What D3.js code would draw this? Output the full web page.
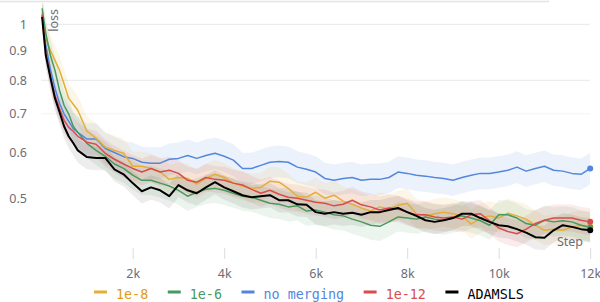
<!DOCTYPE html>
<html>
<head>
<meta charset="utf-8">
<script src="https://cdn.jsdelivr.net/npm/d3@7"></script>
<style>
  body { margin: 0; background: #fff; }
  svg { display: block; }
</style>
</head>
<body>
<div id="chart"></div>
<script>
const steps = [
  20, 100, 200, 300, 400, 500, 600, 700, 800,
  1000, 1200, 1400, 1600, 1800,
  2000, 2200, 2400, 2600, 2800,
  3000, 3200, 3400, 3600, 3800,
  4000, 4200, 4400, 4600, 4800,
  5000, 5200, 5400, 5600, 5800,
  6000, 6200, 6400, 6600, 6800,
  7000, 7200, 7400, 7600, 7800,
  8000, 8200, 8400, 8600, 8800,
  9000, 9200, 9400, 9600, 9800,
  10000, 10200, 10400, 10600, 10800,
  11000, 11200, 11400, 11600, 11800,
  12000
];

const lossE8 = [
  1.05, 0.946, 0.902, 0.866, 0.833, 0.788, 0.745, 0.727, 0.71,
  0.653, 0.635, 0.613, 0.605, 0.598,
  0.568, 0.568, 0.563, 0.555, 0.539,
  0.543, 0.541, 0.529, 0.541, 0.55,
  0.543, 0.531, 0.525, 0.52, 0.522,
  0.535, 0.533, 0.52, 0.504, 0.502,
  0.512, 0.5, 0.506, 0.494, 0.488,
  0.481, 0.475, 0.483, 0.479, 0.486,
  0.49, 0.47, 0.466, 0.47, 0.473,
  0.47, 0.466, 0.451, 0.462, 0.466,
  0.462, 0.471, 0.466, 0.46, 0.449,
  0.44, 0.442, 0.44, 0.446, 0.449,
  0.447
];

const lossE6 = [
  1.066, 0.965, 0.884, 0.833, 0.769, 0.724, 0.7, 0.666, 0.65,
  0.622, 0.605, 0.591, 0.573, 0.563,
  0.548, 0.537, 0.537, 0.531, 0.525,
  0.516, 0.504, 0.512, 0.518, 0.52,
  0.516, 0.51, 0.504, 0.502, 0.496,
  0.49, 0.488, 0.483, 0.485, 0.475,
  0.477, 0.473, 0.468, 0.466, 0.46,
  0.455, 0.449, 0.447, 0.455, 0.464,
  0.462, 0.46, 0.464, 0.46, 0.458,
  0.462, 0.466, 0.462, 0.457, 0.449,
  0.468, 0.468, 0.462, 0.452, 0.449,
  0.458, 0.455, 0.457, 0.455, 0.449,
  0.445
];

const lossNoMerging = [
  1.036, 0.92, 0.836, 0.775, 0.73, 0.7, 0.68, 0.66, 0.65,
  0.633, 0.633, 0.61, 0.6, 0.59,
  0.586, 0.577, 0.575, 0.575, 0.584,
  0.586, 0.593, 0.586, 0.593, 0.598,
  0.591, 0.582, 0.563, 0.563, 0.57,
  0.577, 0.579, 0.577, 0.566, 0.561,
  0.555, 0.541, 0.537, 0.541, 0.543,
  0.537, 0.539, 0.539, 0.543, 0.555,
  0.552, 0.548, 0.546, 0.543, 0.541,
  0.537, 0.543, 0.548, 0.552, 0.552,
  0.555, 0.559, 0.566, 0.557, 0.563,
  0.568, 0.559, 0.557, 0.552, 0.55,
  0.563
];

const lossE12 = [
  1.04, 0.895, 0.81, 0.754, 0.715, 0.682, 0.663, 0.653, 0.64,
  0.625, 0.62, 0.598, 0.584, 0.573,
  0.563, 0.555, 0.563, 0.555, 0.559,
  0.552, 0.537, 0.533, 0.543, 0.539,
  0.537, 0.531, 0.527, 0.518, 0.51,
  0.516, 0.508, 0.502, 0.5, 0.496,
  0.492, 0.49, 0.485, 0.488, 0.496,
  0.487, 0.483, 0.477, 0.481, 0.479,
  0.473, 0.468, 0.468, 0.464, 0.462,
  0.464, 0.46, 0.468, 0.47, 0.457,
  0.444, 0.438, 0.434, 0.442, 0.452,
  0.458, 0.462, 0.462, 0.462, 0.458,
  0.455
];

const lossAdamsls = [
  1.03, 0.884, 0.81, 0.745, 0.705, 0.666, 0.64, 0.623, 0.605,
  0.589, 0.587, 0.587, 0.561, 0.55,
  0.531, 0.514, 0.522, 0.516, 0.504,
  0.527, 0.516, 0.51, 0.522, 0.533,
  0.522, 0.514, 0.506, 0.502, 0.504,
  0.506, 0.496, 0.496, 0.488, 0.487,
  0.473, 0.47, 0.473, 0.47, 0.472,
  0.468, 0.473, 0.473, 0.477, 0.481,
  0.473, 0.466, 0.458, 0.455, 0.458,
  0.462, 0.47, 0.47, 0.462, 0.455,
  0.449, 0.447, 0.442, 0.436, 0.428,
  0.427, 0.44, 0.449, 0.446, 0.442,
  0.44
];

const bandRatios = [1.06, 1.06, 1.065, 1.055, 1.05];

const seriesNames = ['1e-8', '1e-6', 'no merging', '1e-12', 'ADAMSLS'];
const seriesValues = [lossE8, lossE6, lossNoMerging, lossE12, lossAdamsls];
const seriesColors = ['#e5ae38', '#479a5f', '#5387dd', '#da4c4c', '#000000'];
const legendColors = ['#e09b14', '#479a5f', '#5387dd', '#da4c4c', '#000000'];
const drawOrder = [2, 0, 1, 3, 4];

const yTicks = [1, 0.9, 0.8, 0.7, 0.6, 0.5];
const yGrid = [1, 0.8, 0.7];
const xTicks = [2000, 4000, 6000, 8000, 10000, 12000];

const width = 600;
const height = 302;
const textGray = '#6c6d78';

const svg = d3
  .select('#chart')
  .append('svg')
  .attr('width', width)
  .attr('height', height);

const xScale = d3.scaleLinear().domain([0, 12000]).range([41.2, 590.2]);
const yScale = d3.scaleLog().domain([0.41, 1.08]).range([248, 5]);

// panel header border
svg
  .append('line')
  .attr('x1', 0)
  .attr('x2', 549)
  .attr('y1', 1.5)
  .attr('y2', 1.5)
  .attr('stroke', '#e4e4e4')
  .attr('stroke-width', 1.5);

svg
  .append('defs')
  .append('clipPath')
  .attr('id', 'plot-clip')
  .append('rect')
  .attr('x', 41)
  .attr('y', 3)
  .attr('width', 549.5)
  .attr('height', 247);

// gridlines
svg
  .selectAll('.grid')
  .data(yGrid)
  .enter()
  .append('line')
  .attr('class', 'grid')
  .attr('x1', 41)
  .attr('x2', 590)
  .attr('y1', (d) => yScale(d))
  .attr('y2', (d) => yScale(d))
  .attr('stroke', (d) => (d === 0.7 ? '#f3f3f3' : '#e8e8e8'))
  .attr('stroke-width', 1);

// y tick labels
svg
  .selectAll('.ylabel')
  .data(yTicks)
  .enter()
  .append('text')
  .attr('class', 'ylabel')
  .attr('x', 27)
  .attr('y', (d) => yScale(d))
  .attr('dy', '0.35em')
  .attr('text-anchor', 'end')
  .attr('font-family', 'Noto Sans, sans-serif')
  .attr('font-size', 12.5)
  .attr('fill', textGray)
  .text((d) => d);

// x axis
const xAxis = svg
  .append('g')
  .attr('transform', 'translate(0, 248)')
  .call(
    d3
      .axisBottom(xScale)
      .tickValues(xTicks)
      .tickSize(11)
      .tickFormat((d) => d / 1000 + 'k')
  );
xAxis.select('.domain').remove();
xAxis.selectAll('line').attr('stroke', '#dcdcdc');
xAxis
  .selectAll('text')
  .attr('y', 21)
  .attr('font-family', 'Noto Sans, sans-serif')
  .attr('font-size', 12.5)
  .attr('fill', textGray);

const plot = svg.append('g').attr('clip-path', 'url(#plot-clip)');

const area = d3
  .area()
  .x((d) => xScale(d.step))
  .y0((d) => yScale(d.lo))
  .y1((d) => yScale(d.hi));

const line = d3
  .line()
  .x((d) => xScale(d.step))
  .y((d) => yScale(d.value));

const tables = seriesValues.map((values, i) =>
  steps.map((step, j) => ({
    step: step,
    value: values[j],
    lo: values[j] / bandRatios[i],
    hi: values[j] * bandRatios[i]
  }))
);

drawOrder.forEach(function (i) {
  plot
    .append('path')
    .datum(tables[i])
    .attr('d', area)
    .attr('fill', seriesColors[i])
    .attr('fill-opacity', i === 4 ? 0.07 : 0.11);
});

drawOrder.forEach(function (i) {
  plot
    .append('path')
    .datum(tables[i])
    .attr('d', line)
    .attr('fill', 'none')
    .attr('stroke', seriesColors[i])
    .attr('stroke-width', i === 4 ? 2 : 1.5)
    .attr('stroke-linejoin', 'round');
});

// end points
drawOrder.forEach(function (i) {
  const last = tables[i][tables[i].length - 1];
  svg
    .append('circle')
    .attr('cx', xScale(last.step))
    .attr('cy', yScale(last.value))
    .attr('r', 3)
    .attr('fill', seriesColors[i]);
});

// axis titles
svg
  .append('text')
  .attr('transform', 'translate(58, 9) rotate(-90)')
  .attr('text-anchor', 'end')
  .attr('font-family', 'Noto Sans, sans-serif')
  .attr('font-size', 12.5)
  .attr('fill', textGray)
  .text('loss');

svg
  .append('text')
  .attr('x', 583)
  .attr('y', 246)
  .attr('text-anchor', 'end')
  .attr('font-family', 'Noto Sans, sans-serif')
  .attr('font-size', 12.5)
  .attr('fill', textGray)
  .text('Step');

// legend
const legend = svg.append('g').attr('transform', 'translate(94, 0)');
let legendX = 0;
seriesNames.forEach(function (name, i) {
  legend
    .append('rect')
    .attr('x', legendX)
    .attr('y', 290.5)
    .attr('width', 13)
    .attr('height', 3)
    .attr('fill', seriesColors[i]);
  const label = legend
    .append('text')
    .attr('x', legendX + 22)
    .attr('y', 299)
    .attr('font-family', 'DejaVu Sans Mono, monospace')
    .attr('font-size', 13.4)
    .attr('fill', legendColors[i])
    .text(name);
  legendX += 22 + label.node().getComputedTextLength() + 19.5;
});
</script>
</body>
</html>
